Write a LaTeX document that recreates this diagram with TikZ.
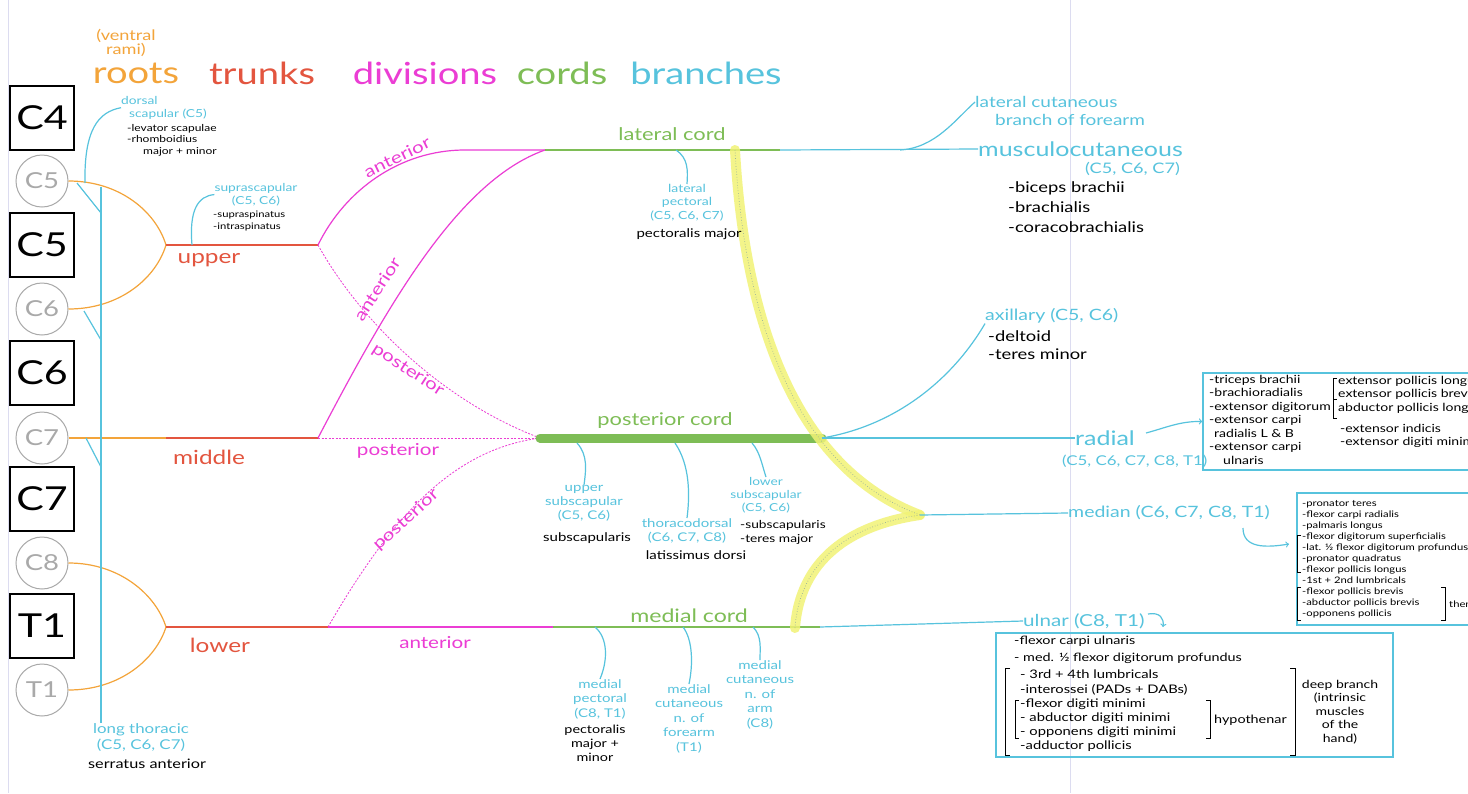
\documentclass[tikz,border=0pt]{standalone}
\usepackage{fontspec}
\setmainfont{Lato}[FakeStretch=1.25]
\usepackage{tikz}
\usetikzlibrary{arrows}
\definecolor{rootorange}{HTML}{F3A43A}
\definecolor{trunkred}{HTML}{E3553F}
\definecolor{divpink}{HTML}{EB3DD4}
\definecolor{cordgreen}{HTML}{7EBD56}
\definecolor{branchblue}{HTML}{57C3DD}
\definecolor{hilite}{HTML}{F1F376}
\definecolor{coregray}{HTML}{9AB39A}
\definecolor{ramusgray}{HTML}{A9A9A9}
\definecolor{pageline}{HTML}{DCDCF0}
\tikzstyle{heading} = [inner sep=0pt, font=\fontsize{30.5}{30.5}\selectfont]
\tikzstyle{segbox} = [rectangle, draw=black, line width=1.3pt, minimum width=64pt, minimum height=64pt, inner sep=0pt, font=\fontsize{33}{33}\selectfont]
\tikzstyle{ramus} = [circle, draw=ramusgray, line width=1pt, minimum size=52pt, inner sep=0pt, text=ramusgray, font=\fontsize{22}{22}\selectfont]
\tikzstyle{root} = [draw=rootorange, line width=1.2pt]
\tikzstyle{trunk} = [draw=trunkred, line width=1.2pt]
\tikzstyle{anterior} = [draw=divpink, line width=1.2pt]
\tikzstyle{posterior} = [draw=divpink, line width=0.8pt, dash pattern=on 2pt off 1.5pt]
\tikzstyle{cord} = [draw=cordgreen, line width=1.2pt]
\tikzstyle{thickcord} = [draw=cordgreen, line width=9pt, line cap=round]
\tikzstyle{nerve} = [draw=branchblue, line width=1.2pt]
\tikzstyle{median} = [draw=hilite, line width=10pt, line cap=round, draw opacity=0.85]
\tikzstyle{mediancore} = [draw=coregray, line width=0.7pt, dotted]
\tikzstyle{trunklabel} = [text=trunkred, inner sep=0pt, font=\fontsize{19.5}{19.5}\selectfont]
\tikzstyle{divlabel} = [text=divpink, inner sep=0pt, font=\fontsize{16.5}{16.5}\selectfont]
\tikzstyle{cordlabel} = [text=cordgreen, inner sep=0pt, font=\fontsize{17.5}{17.5}\selectfont]
\tikzstyle{branchname} = [text=branchblue, inner sep=0pt, anchor=west, font=\fontsize{17}{17}\selectfont]
\tikzstyle{twig} = [text=branchblue, inner sep=0pt, align=center, anchor=north, font=\fontsize{11.2}{13.5}\selectfont]
\tikzstyle{musclelist} = [text=black, inner sep=0pt, align=left, anchor=north west, font=\fontsize{11.2}{13.5}\selectfont]
\tikzstyle{listbox} = [rectangle, draw=branchblue, line width=1.5pt, inner sep=0pt]
\tikzstyle{bracket} = [draw=black, line width=0.8pt]
\tikzstyle{pointer} = [->, >=to]

\begin{document}
\begin{tikzpicture}[x=1pt,y=-1pt]
    \useasboundingbox (0,0) rectangle (1468,793);
    \clip (0,0) rectangle (1468,793);
    \fill [white] (0,0) rectangle (1468,793);
    % notebook rules
    \draw [pageline, line width=1pt] (8,0) -- (8,793);
    \draw [pageline, line width=1pt] (1070,0) -- (1070,793);

    % headings
    \node (ventral) [text=rootorange, inner sep=0pt, align=center, font=\fontsize{14.5}{13}\selectfont] at (126,43) {(ventral\\rami)};
    \node (roots) [heading, text=rootorange] at (136,73) {roots};
    \node (trunks) [heading, text=trunkred] at (262,73) {trunks};
    \node (divisions) [heading, text=divpink] at (425,73) {divisions};
    \node (cords) [heading, text=cordgreen] at (562,73) {cords};
    \node (branches) [heading, text=branchblue] at (706,73) {branches};

    % segments and roots
    \node (c4) [segbox] at (42,118) {C4};
    \node (c5) [segbox] at (42,245) {C5};
    \node (c6) [segbox] at (42,373) {C6};
    \node (c7) [segbox] at (42,499) {C7};
    \node (t1) [segbox] at (42,626) {T1};
    \node (c5r) [ramus] at (42,181) {C5};
    \node (c6r) [ramus] at (42,309) {C6};
    \node (c7r) [ramus] at (42,438) {C7};
    \node (c8r) [ramus] at (42,563) {C8};
    \node (t1r) [ramus] at (42,690) {T1};

    \coordinate (upperj) at (166,245);
    \coordinate (middlej) at (166,438);
    \coordinate (lowerj) at (166,627);
    \coordinate (uppere) at (318,245);
    \coordinate (middlee) at (318,438);
    \coordinate (lowere) at (328,627);
    \coordinate (latbend) at (465,150);
    \coordinate (latstart) at (545,150);
    \coordinate (poststart) at (540,438);
    \coordinate (medstart) at (553,627);
    \coordinate (latend) at (780,150);
    \coordinate (postend) at (822,438);
    \coordinate (medend) at (820,627);
    \coordinate (medianlat) at (735,150);
    \coordinate (medianmed) at (795,628);
    \coordinate (medianj) at (920,515);

    \draw [root] (c5r.east) .. controls (120,181) and (156,212) .. (upperj);
    \draw [root] (c6r.east) .. controls (120,309) and (156,278) .. (upperj);
    \draw [root] (c7r.east) -- (middlej);
    \draw [root] (c8r.east) .. controls (120,563) and (156,595) .. (lowerj);
    \draw [root] (t1r.east) .. controls (120,690) and (156,659) .. (lowerj);

    % trunks
    \draw [trunk] (upperj) -- (uppere);
    \draw [trunk] (middlej) -- (middlee);
    \draw [trunk] (lowerj) -- (lowere);
    \node (upperlbl) [trunklabel] at (209,260) {upper};
    \node (middlelbl) [trunklabel] at (209,457) {middle};
    \node (lowerlbl) [trunklabel] at (220,645) {lower};

    % divisions
    \draw [anterior] (uppere) .. controls (345,190) and (400,150) .. (latbend) -- (latstart);
    \draw [posterior] (uppere) .. controls (360,320) and (440,400) .. (poststart);
    \draw [anterior] (middlee) .. controls (390,300) and (460,180) .. (latstart);
    \draw [posterior] (middlee) -- (poststart);
    \draw [posterior] (lowere) .. controls (390,520) and (450,450) .. (poststart);
    \draw [anterior] (lowere) -- (medstart);
    \node (antup) [divlabel, rotate=26] at (397,157) {anterior};
    \node (antmid) [divlabel, rotate=57] at (377,289) {anterior};
    \node (postup) [divlabel, rotate=-33] at (408,370) {posterior};
    \node (postmid) [divlabel] at (398,451) {posterior};
    \node (postlow) [divlabel, rotate=42] at (406,520) {posterior};
    \node (antlow) [divlabel] at (435,643) {anterior};

    % cords
    \draw [cord] (latstart) -- (latend);
    \draw [thickcord] (poststart) -- (postend);
    \draw [cord] (medstart) -- (medend);
    \node (latcordlbl) [cordlabel] at (672,134) {lateral cord};
    \node (postcordlbl) [cordlabel] at (665,421) {posterior cord};
    \node (medcordlbl) [cordlabel, font=\fontsize{18.5}{18.5}\selectfont] at (689,616) {medial cord};

    % median nerve roots
    \draw [median] (medianlat) .. controls (745,330) and (800,470) .. (medianj);
    \draw [median] (medianmed) .. controls (800,560) and (850,525) .. (medianj);
    \draw [mediancore] (medianlat) .. controls (745,330) and (800,470) .. (medianj);
    \draw [mediancore] (medianmed) .. controls (800,560) and (850,525) .. (medianj);

    % long thoracic
    \coordinate (lt5) at (77,183);
    \coordinate (lt6) at (84,311);
    \coordinate (lt7) at (86,438);
    \coordinate (lta) at (101,213);
    \coordinate (ltb) at (101,340);
    \coordinate (ltc) at (101,467);
    \coordinate (lttop) at (101,187);
    \node (ltname) [twig, font=\fontsize{13.5}{16.3}\selectfont] at (141,723) {long thoracic\\(C5, C6, C7)};
    \node (ltmuscle) [musclelist, font=\fontsize{13}{13}\selectfont] at (88,759) {serratus anterior};
    \draw [nerve] (lttop) -- (ltname.north -| lttop);
    \draw [nerve] (lt5) -- (lta);
    \draw [nerve] (lt6) -- (ltb);
    \draw [nerve] (lt7) -- (ltc);

    % dorsal scapular
    \coordinate (dsroot) at (85,183);
    \node (dsname) [twig, anchor=north west, align=left, font=\fontsize{11}{13}\selectfont] at (121,96) {dorsal\\\hspace*{8pt}scapular (C5)};
    \node (dsmuscles) [musclelist, font=\fontsize{9.6}{11.5}\selectfont] at (127,124) {-levator scapulae\\-rhomboidius\\\hspace*{16pt}major + minor};
    \draw [nerve] (dsroot) .. controls (84,130) and (98,112) .. (dsname.west);

    % suprascapular
    \coordinate (ssroot) at (192,245);
    \node (ssname) [twig, font=\fontsize{11}{13}\selectfont] at (256,183) {suprascapular\\(C5, C6)};
    \node (ssmuscles) [musclelist, font=\fontsize{9}{11.5}\selectfont] at (213,211) {-supraspinatus\\-intraspinatus};
    \draw [nerve] (ssroot) .. controls (189,210) and (198,196) .. (ssname.west);

    % lateral cord branches
    \coordinate (lpbranch) at (676,150);
    \coordinate (lcbranch) at (900,150);
    \node (latpect) [twig] at (687,184) {lateral\\pectoral\\(C5, C6, C7)};
    \node (latpectm) [musclelist, anchor=north, font=\fontsize{12}{12}\selectfont] at (689,228) {pectoralis major};
    \draw [nerve] (lpbranch) .. controls (688,158) and (688,170) .. (latpect.north);
    \node (latcut) [branchname, font=\fontsize{15.2}{15.2}\selectfont] at (975,102) {lateral cutaneous};
    \node (latcut2) [branchname, font=\fontsize{15.2}{15.2}\selectfont] at (995,120) {branch of forearm};
    \node (musc) [branchname, font=\fontsize{20}{20}\selectfont] at (978,149) {musculocutaneous};
    \node (muscroots) [branchname, font=\fontsize{14.5}{14.5}\selectfont] at (1085,169) {(C5, C6, C7)};
    \node (muscmuscles) [musclelist, font=\fontsize{14.7}{20}\selectfont] at (1008,181) {-biceps brachii\\-brachialis\\-coracobrachialis};
    \draw [nerve] (latend) -- (musc.west);
    \draw [nerve] (lcbranch) .. controls (935,148) and (955,120) .. (latcut.west);

    % posterior cord branches
    \coordinate (usbranch) at (577,443);
    \coordinate (tdbranch) at (675,443);
    \coordinate (lsbranch) at (752,443);
    \node (upsub) [twig, font=\fontsize{12}{14}\selectfont] at (584,485) {upper\\subscapular\\(C5, C6)};
    \node (upsubm) [musclelist, anchor=north, font=\fontsize{12}{12}\selectfont] at (587,532) {subscapularis};
    \draw [nerve] (usbranch) .. controls (588,455) and (586,470) .. (upsub.north);
    \node (thoraco) [twig, font=\fontsize{12}{14.5}\selectfont] at (687,518) {thoracodorsal\\(C6, C7, C8)};
    \node (thoracom) [musclelist, anchor=north, font=\fontsize{12}{12}\selectfont] at (696,550) {latissimus dorsi};
    \draw [nerve] (tdbranch) .. controls (690,465) and (690,495) .. (thoraco.north);
    \node (lowsub) [twig, font=\fontsize{11}{13.2}\selectfont] at (766,477) {lower\\subscapular\\(C5, C6)};
    \node (lowsubm) [musclelist, font=\fontsize{11}{14}\selectfont] at (740,520) {-subscapularis\\-teres major};
    \draw [nerve] (lsbranch) .. controls (760,452) and (762,465) .. (lowsub.north);

    \node (ax) [branchname, font=\fontsize{15.6}{15.6}\selectfont] at (985,316) {axillary (C5, C6)};
    \node (axmuscles) [musclelist, font=\fontsize{14.7}{18}\selectfont] at (988,330) {-deltoid\\-teres minor};
    \draw [nerve] (postend) .. controls (900,425) and (955,375) .. (ax.south west);
    \node (rad) [branchname, font=\fontsize{20}{20}\selectfont] at (1075,438) {radial};
    \node (radroots) [branchname, font=\fontsize{13.5}{13.5}\selectfont] at (1062,461) {(C5, C6, C7, C8, T1)};
    \draw [nerve] (postend) -- (rad.west);

    % medial cord branches
    \coordinate (mpbranch) at (595,627);
    \coordinate (mcfbranch) at (683,627);
    \coordinate (mcabranch) at (753,627);
    \node (medpect) [twig, font=\fontsize{12}{14.5}\selectfont] at (600,679) {medial\\pectoral\\(C8, T1)};
    \node (medpectm) [musclelist, align=center, anchor=north, font=\fontsize{11.5}{14}\selectfont] at (595,725) {pectoralis\\major +\\minor};
    \draw [nerve] (mpbranch) .. controls (608,638) and (608,660) .. (medpect.north);
    \node (medcutfa) [twig, font=\fontsize{12}{14.5}\selectfont] at (689,684) {medial\\cutaneous\\n. of\hspace*{24pt}\\forearm\\(T1)};
    \draw [nerve] (mcfbranch) .. controls (693,640) and (693,665) .. (medcutfa.north);
    \node (medcutarm) [twig, font=\fontsize{12}{14.5}\selectfont] at (760,660) {medial\\cutaneous\\n. of\\arm\\(C8)};
    \draw [nerve] (mcabranch) .. controls (762,636) and (760,648) .. (medcutarm.north);

    \node (mednerve) [branchname, font=\fontsize{15.6}{15.6}\selectfont] at (1068,513) {median (C6, C7, C8, T1)};
    \draw [nerve] (medianj) -- (mednerve.west);
    \node (uln) [branchname, font=\fontsize{16.5}{16.5}\selectfont] at (1023,621) {ulnar (C8, T1)};
    \draw [nerve] (medend) -- (uln.west);

    % radial box
    \node (radbox) [listbox, minimum width=287pt, minimum height=97pt] at (1346.5,421.5) {};
    \coordinate (radtail) at (1146,433);
    \draw [nerve, pointer] (radtail) .. controls (1165,428) and (1180,421) .. (radbox.west);
    \node (radlist) [musclelist] at (1209,375) {-triceps brachii\\-brachioradialis\\-extensor digitorum\\-extensor carpi\\\hspace*{5pt}radialis L \& B\\-extensor carpi\\\hspace*{14pt}ulnaris};
    \draw [bracket] (1337,378) -- (1333,378) -- (1333,418) -- (1337,418);
    \draw [bracket] (1333,399) -- (1337,399);
    \node (radthumb) [musclelist] at (1338,376) {extensor pollicis longus\\extensor pollicis brevis\\abductor pollicis longus};
    \node (radfinger) [musclelist] at (1340,424) {-extensor indicis\\-extensor digiti minimi};

    % median box
    \node (medbox) [listbox, minimum width=193pt, minimum height=132pt] at (1393.5,559) {};
    \coordinate (medtail) at (1243,528);
    \coordinate (medhead) at (1289,544);
    \draw [nerve, pointer] (medtail) .. controls (1243,548) and (1265,548) .. (medhead);
    \node (medlist) [musclelist, font=\fontsize{9}{11}\selectfont] at (1302,500) {-pronator teres\\-flexor carpi radialis\\-palmaris longus\\-flexor digitorum superficialis\\-lat. ½ flexor digitorum profundus\\-pronator quadratus\\-flexor pollicis longus\\-1st + 2nd lumbricals\\-flexor pollicis brevis\\-abductor pollicis brevis\\-opponens pollicis};
    \draw [bracket] (1301,535) -- (1297,535) -- (1297,572) -- (1301,572);
    \draw [bracket] (1301,587) -- (1297,587) -- (1297,620) -- (1301,620);
    \draw [bracket] (1441,587) -- (1445,587) -- (1445,620) -- (1441,620);
    \node (thenar) [musclelist, anchor=west, font=\fontsize{9}{11}\selectfont] at (1449,604) {thenar};

    % ulnar box
    \node (ulnbox) [listbox, minimum width=397pt, minimum height=124pt] at (1194.5,695) {};
    \coordinate (ulntail) at (1148,614);
    \coordinate (ulnhead) at (1163,627);
    \draw [nerve, pointer] (ulntail) .. controls (1160,612) and (1164,618) .. (ulnhead);
    \node (ulnlist) [musclelist, font=\fontsize{11.5}{17}\selectfont] at (1014,636) {-flexor carpi ulnaris\\- med. ½ flexor digitorum profundus};
    \node (ulndeep) [musclelist, font=\fontsize{11.8}{14.2}\selectfont] at (1020,670) {- 3rd + 4th lumbricals\\-interossei (PADs + DABs)\\-flexor digiti minimi\\- abductor digiti minimi\\- opponens digiti minimi\\-adductor pollicis};
    \draw [bracket] (1010,668) -- (1005,668) -- (1005,755) -- (1010,755);
    \draw [bracket] (1290,668) -- (1295,668) -- (1295,755) -- (1290,755);
    \draw [bracket] (1019,700) -- (1015,700) -- (1015,738) -- (1019,738);
    \draw [bracket] (1206,700) -- (1210,700) -- (1210,738) -- (1206,738);
    \node (hypo) [musclelist, anchor=west, font=\fontsize{11.5}{14}\selectfont] at (1214,720) {hypothenar};
    \node (deep) [musclelist, align=center, anchor=north, font=\fontsize{11.2}{13.5}\selectfont] at (1340,680) {deep branch\\(intrinsic\\muscles\\of the\\hand)};
\end{tikzpicture}
\end{document}
